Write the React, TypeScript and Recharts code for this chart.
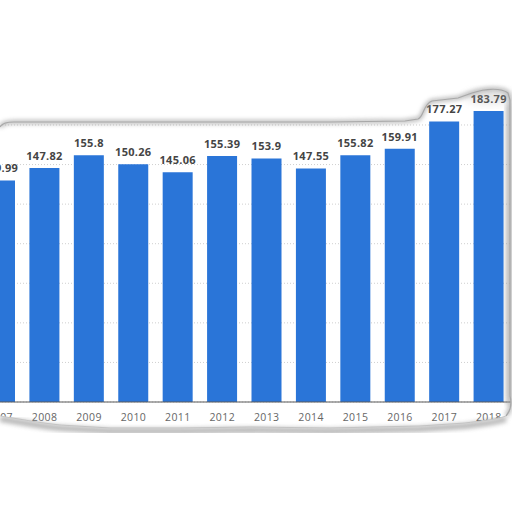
import { BarChart, Bar, XAxis, YAxis, CartesianGrid, LabelList } from "recharts";

const YEARS = ["2007", "2008", "2009", "2010", "2011", "2012", "2013", "2014", "2015", "2016", "2017", "2018"];
const VALUES = [139.99, 147.82, 155.8, 150.26, 145.06, 155.39, 153.9, 147.55, 155.82, 159.91, 177.27, 183.79];
const Y_TICKS = [0, 25, 50, 75, 100, 125, 150, 175, 200];

const data = YEARS.map((year, i) => ({ year, value: VALUES[i] }));

const FONT = "'Open Sans', 'DejaVu Sans', sans-serif";

// torn paper outline drawn over the chart
const TOP_EDGE =
  "M0,127 C2,123 7,122 14,122 L200,122 L330,122 L405,121 L418,119 C424,117 423,104 432,101 L458,98 L472,93 C486,88 502,88 508,93 L510,100 L510,396 C512,404 511,410 506,416";
const BOTTOM_EDGE =
  "M506,416 C495,420 480,421 465,423 L420,426 L330,428 L250,427 L180,428 L110,428 L60,425 C40,423 20,419 0,416";

function TornPaper() {
  return (
    <svg
      width={512}
      height={512}
      style={{ position: "absolute", left: 0, top: 0, pointerEvents: "none" }}
    >
      <defs>
        <filter id="soft" x="-10%" y="-10%" width="120%" height="120%">
          <feGaussianBlur stdDeviation="2.2" />
        </filter>
        <filter id="curl" x="-50%" y="-50%" width="200%" height="200%">
          <feGaussianBlur stdDeviation="4" />
        </filter>
      </defs>
      {/* outside areas */}
      <path d={TOP_EDGE + " L512,416 L512,0 L0,0 Z"} fill="#fff" />
      <path d={BOTTOM_EDGE + " L0,512 L512,512 L512,416 Z"} fill="#fff" />
      {/* shadows */}
      <path d={TOP_EDGE} fill="none" stroke="#9a9a9a" strokeWidth={4} filter="url(#soft)" opacity={0.7} />
      <path d={BOTTOM_EDGE} fill="none" stroke="#8a8a8a" strokeWidth={6} filter="url(#soft)" opacity={0.6} transform="translate(0,3)" />
      <ellipse cx={490} cy={97} rx={24} ry={6} fill="#a0a0a0" opacity={0.3} filter="url(#curl)" />
      <rect x={505} y={105} width={6} height={300} fill="#9a9a9a" opacity={0.35} filter="url(#soft)" />
      {/* edges */}
      <path d={TOP_EDGE} fill="none" stroke="#a8a8a8" strokeWidth={1.2} />
      <path d={BOTTOM_EDGE} fill="none" stroke="#c4c4c4" strokeWidth={1} />
    </svg>
  );
}

export default function App() {
  return (
    <div
      style={{
        position: "fixed",
        left: 0,
        top: 0,
        width: 512,
        height: 512,
        overflow: "hidden",
        background: "#fff",
      }}
    >
      <div style={{ position: "absolute", left: -22, top: 0 }}>
        <BarChart
          width={533}
          height={440}
          data={data}
          margin={{ top: 85.4, right: 0, bottom: 8, left: 0 }}
          barCategoryGap={7}
        >
          <CartesianGrid vertical={false} stroke="#cfcfcf" strokeDasharray="1 2" />
          <YAxis hide domain={[0, 200]} ticks={Y_TICKS} />
          <XAxis
            dataKey="year"
            height={30}
            tickLine={false}
            tickSize={0}
            tickMargin={12}
            axisLine={{ stroke: "#5a5a5a", strokeWidth: 1.2 }}
            interval={0}
            tick={{ fontSize: 10.5, fill: "#666", fontFamily: FONT, letterSpacing: 0.4 }}
          />
          <Bar dataKey="value" fill="#2a75d8" isAnimationActive={false}>
            <LabelList
              dataKey="value"
              position="top"
              offset={8}
              style={{ fontSize: 11, fontWeight: 700, fill: "#444", fontFamily: FONT, letterSpacing: 0.3 }}
            />
          </Bar>
        </BarChart>
      </div>
      <TornPaper />
    </div>
  );
}
